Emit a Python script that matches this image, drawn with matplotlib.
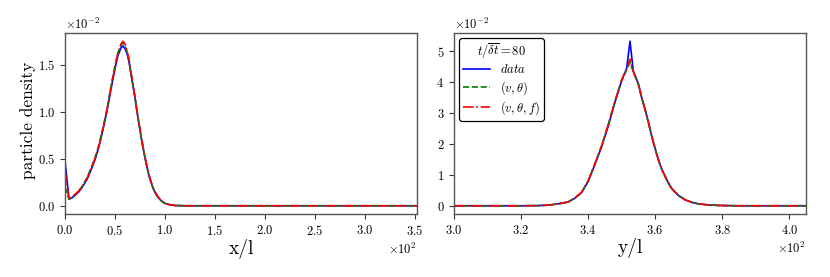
import matplotlib
matplotlib.use("Agg")
import matplotlib.pyplot as plt
from matplotlib.ticker import ScalarFormatter

plt.rcParams['font.family'] = 'serif'
plt.rcParams['font.serif'] = ['cmr10']
plt.rcParams['mathtext.fontset'] = 'cm'
plt.rcParams['axes.formatter.use_mathtext'] = True
plt.rcParams['axes.unicode_minus'] = True

# ---- Left panel: density along x ----
x_pos = [0, 4, 7, 10, 14, 18, 22, 26, 30, 34, 38, 42, 46, 50, 53, 56, 58, 60, 62,
         64, 66, 68, 70, 72, 74, 76, 78, 80, 82, 84, 86, 88, 90, 93, 96, 100, 105,
         110, 120, 200, 300, 352]
x_data = [0.48, 0.07, 0.085, 0.11, 0.15, 0.21, 0.28, 0.38, 0.49, 0.63, 0.81, 1.01,
          1.24, 1.46, 1.60, 1.68, 1.70, 1.67, 1.62, 1.53, 1.40, 1.27, 1.15, 1.00,
          0.87, 0.74, 0.62, 0.51, 0.41, 0.32, 0.25, 0.19, 0.14, 0.09, 0.055, 0.025,
          0.01, 0.003, 0.0, 0.0, 0.0, 0.0]
x_vth = [0.20, 0.07, 0.09, 0.12, 0.16, 0.22, 0.30, 0.40, 0.51, 0.65, 0.83, 1.03,
         1.27, 1.49, 1.63, 1.71, 1.73, 1.70, 1.64, 1.55, 1.41, 1.28, 1.15, 1.00,
         0.87, 0.74, 0.62, 0.51, 0.41, 0.32, 0.25, 0.19, 0.14, 0.09, 0.055, 0.025,
         0.01, 0.003, 0.0, 0.0, 0.0, 0.0]
x_vthf = [0.38, 0.07, 0.09, 0.12, 0.16, 0.22, 0.29, 0.39, 0.50, 0.64, 0.82, 1.02,
          1.26, 1.48, 1.63, 1.72, 1.75, 1.72, 1.65, 1.56, 1.42, 1.29, 1.16, 1.01,
          0.88, 0.75, 0.63, 0.52, 0.42, 0.33, 0.26, 0.20, 0.15, 0.095, 0.058, 0.027,
          0.011, 0.003, 0.0, 0.0, 0.0, 0.0]

# ---- Right panel: density along y ----
y_pos = [300, 320, 325, 328, 331, 334, 336, 338, 340, 342, 344, 346, 348, 350,
         351.5, 352.5, 353.5, 354, 355, 356, 357, 358, 359, 360, 361, 362, 363,
         364, 365, 367, 369, 371, 373, 376, 380, 385, 405]
y_data = [0.0, 0.0, 0.005, 0.02, 0.06, 0.12, 0.24, 0.42, 0.78, 1.33, 1.90, 2.58,
          3.35, 4.05, 4.45, 5.33, 4.35, 4.22, 3.95, 3.50, 3.12, 2.70, 2.25, 1.85,
          1.48, 1.18, 0.95, 0.73, 0.55, 0.33, 0.19, 0.11, 0.06, 0.025, 0.008, 0.0, 0.0]
y_vth = [0.0, 0.0, 0.005, 0.02, 0.06, 0.12, 0.25, 0.43, 0.80, 1.35, 1.93, 2.62,
         3.38, 4.05, 4.40, 4.65, 4.33, 4.20, 3.93, 3.49, 3.11, 2.69, 2.24, 1.84,
         1.47, 1.17, 0.94, 0.72, 0.54, 0.33, 0.19, 0.11, 0.06, 0.025, 0.008, 0.0, 0.0]
y_vthf = [0.0, 0.0, 0.005, 0.02, 0.06, 0.12, 0.25, 0.43, 0.80, 1.35, 1.93, 2.62,
          3.38, 4.08, 4.45, 4.75, 4.35, 4.22, 3.95, 3.50, 3.12, 2.70, 2.25, 1.85,
          1.48, 1.18, 0.95, 0.73, 0.55, 0.33, 0.19, 0.11, 0.06, 0.025, 0.008, 0.0, 0.0]

labels = [r'$data$', r'$(v,\theta)$', r'$(v,\theta,f)$']
legend_title = r'$t/\overline{\delta t}=80$'
scale = 1e-2

W, H = 830, 277
fig = plt.figure(figsize=(W / 100, H / 100), dpi=100)
ax1 = fig.add_axes([65 / W, (H - 214) / H, 352 / W, 181 / H])
ax2 = fig.add_axes([454 / W, (H - 214) / H, 352 / W, 181 / H])

styles = [dict(color='b', ls='-'), dict(color='g', ls='--'), dict(color='r', ls='-.')]

for ax, pos, series in [(ax1, x_pos, [x_data, x_vth, x_vthf]),
                        (ax2, y_pos, [y_data, y_vth, y_vthf])]:
    for vals, st, lab in zip(series, styles, labels):
        ax.plot(pos, [v * scale for v in vals], lw=1.2, label=lab, **st)
    for axis in (ax.xaxis, ax.yaxis):
        fmt = ScalarFormatter(useMathText=True, useOffset=False)
        fmt.set_powerlimits((0, 0))
        axis.set_major_formatter(fmt)
    ax.tick_params(labelsize=9, direction='out', length=3.5, width=0.8, color='#333333')
    ax.xaxis.get_offset_text().set_fontsize(9)
    ax.yaxis.get_offset_text().set_fontsize(9)
    for sp in ax.spines.values():
        sp.set_color('#555555')
        sp.set_linewidth(1.0)

ax1.set_xlim(0, 352)
ax2.set_xlim(300, 405)
ax1.set_xlabel('x/l', fontsize=14, labelpad=1)
ax2.set_xlabel('y/l', fontsize=14, labelpad=1)
ax1.set_ylabel('particle density', fontsize=12.5)
ax1.yaxis.set_label_coords(-0.083, 0.52)

leg = ax2.legend(title=legend_title, loc='upper left', fontsize=9,
                 title_fontsize=9, frameon=True, fancybox=True, framealpha=1,
                 edgecolor='black', borderaxespad=0.4, handlelength=2.2,
                 labelspacing=0.2, borderpad=0.3)
leg.get_frame().set_linewidth(0.9)

fig.savefig('out.png', dpi=100)
